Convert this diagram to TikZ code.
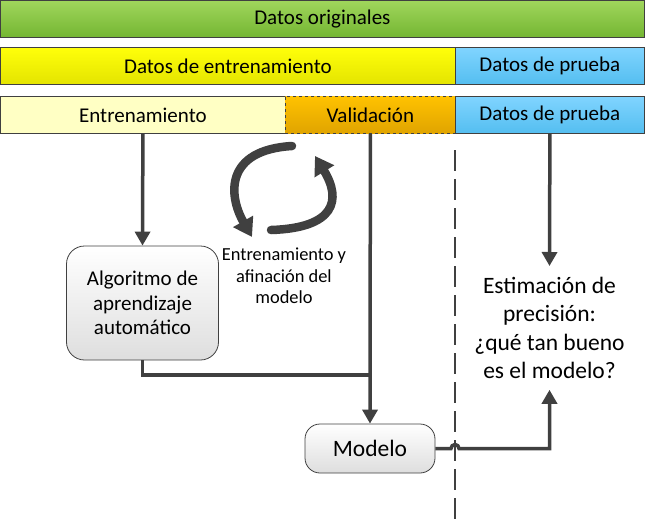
\documentclass[tikz,border=0pt]{standalone}
\usepackage{fontspec}
\setmainfont{Carlito}
\usetikzlibrary{arrows.meta}
\definecolor{edgegray}{RGB}{64,64,64}
\definecolor{boxgray}{RGB}{222,222,222}
\begin{document}
\begin{tikzpicture}[x=1pt,y=-1pt,%
  databar/.style={draw=edgegray, line width=0.8pt, anchor=north west, minimum height=37pt, inner sep=0pt, font=\fontsize{21}{25}\selectfont},%
  procbox/.style={draw=edgegray, line width=0.8pt, top color=white, bottom color=boxgray, align=center, inner sep=0pt, font=\fontsize{21}{24.5}\selectfont},%
  flowarrow/.style={draw=edgegray, line width=3.5pt, -{Triangle[width=15pt,length=14pt]}},%
  cyclearrow/.style={draw=edgegray, line width=8.5pt, line cap=round, -{Triangle[width=22pt,length=18pt]}}]%
\useasboundingbox (0,0) rectangle (646,520);%
% separator between the training part and the test part
\coordinate (septop) at (455,150);%
\coordinate (sepbot) at (455,520);%
\draw[edgegray, line width=1.2pt, dash pattern=on 21pt off 8pt] (septop) -- (sepbot);%
% the three bars
\node[databar, minimum width=644pt, top color={rgb,255:red,160;green,214;blue,92}, bottom color={rgb,255:red,116;green,182;blue,50}] (orig) at (0,0) {Datos originales};%
\node[databar, minimum width=455pt, top color={rgb,255:red,255;green,255;blue,10}, bottom color={rgb,255:red,228;green,228;blue,0}] (train) at (0,47) {Datos de entrenamiento};%
\node[databar, minimum width=189pt, top color={rgb,255:red,128;green,212;blue,255}, bottom color={rgb,255:red,84;green,190;blue,240}] (prueba1) at (455,47) {Datos de prueba};%
\node[databar, minimum width=285pt, fill={rgb,255:red,255;green,255;blue,196}] (entr) at (0,96) {Entrenamiento};%
\node[databar, minimum width=170pt, dashed, top color={rgb,255:red,255;green,194;blue,0}, bottom color={rgb,255:red,224;green,164;blue,0}] (valid) at (285,96) {Validación};%
\node[databar, minimum width=189pt, top color={rgb,255:red,128;green,212;blue,255}, bottom color={rgb,255:red,84;green,190;blue,240}] (prueba2) at (455,96) {Datos de prueba};%
% boxes and texts
\node[procbox, rounded corners=18pt, minimum width=152pt, minimum height=114pt] (algo) at (142.5,303) {Algoritmo de\\aprendizaje\\automático};%
\node[procbox, rounded corners=15pt, minimum width=130pt, minimum height=49pt, font=\fontsize{23.5}{28}\selectfont] (modelo) at (370,448.5) {Modelo};%
\node[align=center, inner sep=0pt, font=\fontsize{18.4}{21.5}\selectfont] (ajuste) at (284,276) {Entrenamiento y\\afinación del\\modelo};%
\node[align=center, inner sep=11pt, anchor=north, font=\fontsize{23.5}{28.3}\selectfont] (est) at (549.5,266) {Estimación de\\precisión:\\¿qué tan bueno\\es el modelo?};%
% connectors
\coordinate (join) at (370,375);%
\draw[flowarrow] (entr.south) -- (algo.north);%
\draw[flowarrow] (valid.south) -- (modelo.north);%
\draw[edgegray, line width=3.5pt] (algo.south) |- (join);%
\draw[flowarrow] (prueba2.south) -- (est.north);%
\draw[flowarrow] (modelo.east) -- (451,448.5) arc[start angle=180, end angle=360, radius=4] -| (est.south);%
% tuning cycle
\draw[cyclearrow] (292,146) .. controls (225,150) and (228,195) .. (252,237);%
\draw[cyclearrow] (271,230) .. controls (335,228) and (342,200) .. (315,156);%
\end{tikzpicture}
\end{document}
